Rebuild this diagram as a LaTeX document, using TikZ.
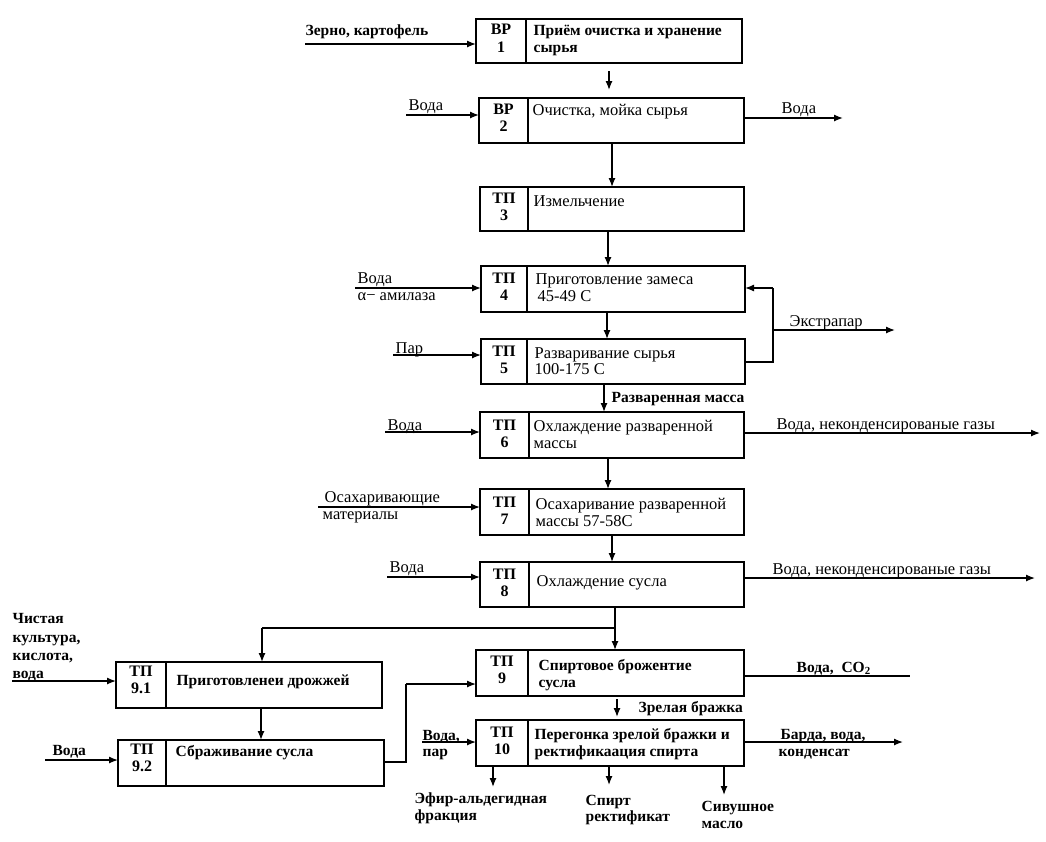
\documentclass[tikz,border=0pt]{standalone}
\usepackage{fontspec}
\setmainfont{Liberation Serif}
\usetikzlibrary{arrows.meta}
\begin{document}
\begin{tikzpicture}[x=1pt,y=-1pt,
  font=\fontsize{16.5}{17.5}\selectfont,
  line width=1.3pt,
  arr/.style={-{Latex[length=9pt,width=7pt]}},
  box/.style={draw, line width=1.3pt, anchor=north west, inner sep=0pt, outer sep=0pt},
  lbl/.style={anchor=base west, inner sep=0pt},
  bf/.style={font=\fontsize{15.5}{17.5}\selectfont\bfseries},
  idt/.style={align=center, inner sep=0pt, font=\fontsize{16}{17.5}\selectfont\bfseries},
  ]
\useasboundingbox[fill=white] (0,0) rectangle (1046,841);

% ---------- boxes ----------
\node[box, minimum width=266, minimum height=44] (b1) at (476,19) {};
\draw ([xshift=50]b1.north west) -- ([xshift=50]b1.south west);
\node[idt] (b1id) at (501,38.5) {ВР\\1};
\node[lbl,bf] (b1t) at (533,35) {Приём очистка и хранение};
\node[lbl,bf] (b1u) at (533,52) {сырья};

\node[box, minimum width=265, minimum height=45] (b2) at (479,98) {};
\draw ([xshift=49]b2.north west) -- ([xshift=49]b2.south west);
\node[idt] (b2id) at (503.5,118) {ВР\\2};
\node[lbl] (b2t) at (532,115) {Очистка, мойка сырья};

\node[box, minimum width=264, minimum height=44] (b3) at (480,187) {};
\draw ([xshift=48]b3.north west) -- ([xshift=48]b3.south west);
\node[idt] (b3id) at (504,207) {ТП\\3};
\node[lbl] (b3t) at (533,206) {Измельчение};

\node[box, minimum width=264, minimum height=46] (b4) at (481,266) {};
\draw ([xshift=46]b4.north west) -- ([xshift=46]b4.south west);
\node[idt] (b4id) at (504,287) {ТП\\4};
\node[lbl] (b4t) at (535,284) {Приготовление замеса};
\node[lbl] (b4u) at (537,301) {45-49 С};

\node[box, minimum width=264, minimum height=45] (b5) at (481,339) {};
\draw ([xshift=46]b5.north west) -- ([xshift=46]b5.south west);
\node[idt] (b5id) at (504,360) {ТП\\5};
\node[lbl] (b5t) at (534,358) {Разваривание сырья};
\node[lbl] (b5u) at (534,374) {100-175 С};

\node[box, minimum width=264, minimum height=46] (b6) at (480,412) {};
\draw ([xshift=49]b6.north west) -- ([xshift=49]b6.south west);
\node[idt] (b6id) at (504.5,434) {ТП\\6};
\node[lbl] (b6t) at (533,431) {Охлаждение разваренной};
\node[lbl] (b6u) at (533,448) {массы};

\node[box, minimum width=264, minimum height=46] (b7) at (480,489) {};
\draw ([xshift=49]b7.north west) -- ([xshift=49]b7.south west);
\node[idt] (b7id) at (504.5,511) {ТП\\7};
\node[lbl] (b7t) at (535,509) {Осахаривание разваренной};
\node[lbl] (b7u) at (535,526) {массы 57-58С};

\node[box, minimum width=264, minimum height=45] (b8) at (480,562) {};
\draw ([xshift=49]b8.north west) -- ([xshift=49]b8.south west);
\node[idt] (b8id) at (504.5,583) {ТП\\8};
\node[lbl] (b8t) at (536,586) {Охлаждение сусла};

\node[box, minimum width=268, minimum height=46] (b9) at (476,650) {};
\draw ([xshift=52]b9.north west) -- ([xshift=52]b9.south west);
\node[idt] (b9id) at (502,670) {ТП\\9};
\node[lbl,bf] (b9t) at (538,670) {Спиртовое брожентие};
\node[lbl,bf] (b9u) at (538,687) {сусла};

\node[box, minimum width=268, minimum height=46] (b10) at (476,720) {};
\draw ([xshift=52]b10.north west) -- ([xshift=52]b10.south west);
\node[idt] (b10id) at (502,741) {ТП\\10};
\node[lbl,bf] (b10t) at (534,739) {Перегонка зрелой бражки и};
\node[lbl,bf] (b10u) at (534,756) {ректификаация спирта};

\node[box, minimum width=266, minimum height=46] (b91) at (116,662) {};
\draw ([xshift=50]b91.north west) -- ([xshift=50]b91.south west);
\node[idt] (b91id) at (141,680) {ТП\\9.1};
\node[lbl,bf] (b91t) at (176,685) {Приготовленеи дрожжей};

\node[box, minimum width=266, minimum height=46] (b92) at (118,740) {};
\draw ([xshift=48]b92.north west) -- ([xshift=48]b92.south west);
\node[idt] (b92id) at (142,758) {ТП\\9.2};
\node[lbl,bf] (b92t) at (175,756) {Сбраживание сусла};

% ---------- helper coordinates ----------
\coordinate (x604) at (604,0);
\coordinate (x607) at (607,0);
\coordinate (x608) at (608,0);
\coordinate (x612) at (612,0);
\coordinate (x615) at (615,0);
\coordinate (x262) at (262,0);
\coordinate (x261) at (261,0);
\coordinate (x493) at (493,0);
\coordinate (x609) at (609,0);
\coordinate (x724) at (724,0);

% ---------- inputs ----------
\coordinate (i1) at (305,44);
\draw[arr] (i1) -- (i1 -| b1.west);
\node[lbl,bf] (l1) at (305,35) {Зерно, картофель};

\coordinate (i2) at (406,115);
\draw[arr] (i2) -- (i2 -| b2.west);
\node[lbl] (l2) at (408,110) {Вода};

\coordinate (i4) at (355,288);
\draw[arr] (i4) -- (i4 -| b4.west);
\node[lbl] (l4a) at (357,283) {Вода};
\node[lbl] (l4b) at (357,300) {α− амилаза};

\coordinate (i5) at (393,355);
\draw[arr] (i5) -- (i5 -| b5.west);
\node[lbl] (l5) at (395,353) {Пар};

\coordinate (i6) at (385,432);
\draw[arr] (i6) -- (i6 -| b6.west);
\node[lbl] (l6) at (387,430) {Вода};

\coordinate (i7) at (318,507);
\draw[arr] (i7) -- (i7 -| b7.west);
\node[lbl] (l7a) at (324,502) {Осахаривающие};
\node[lbl] (l7b) at (322,519) {материалы};

\coordinate (i8) at (387,577);
\draw[arr] (i8) -- (i8 -| b8.west);
\node[lbl] (l8) at (389,572) {Вода};

\coordinate (i91) at (12,681);
\draw[arr] (i91) -- (i91 -| b91.west);
\node[lbl,bf] (l91a) at (12,623) {Чистая};
\node[lbl,bf] (l91b) at (12,642) {культура,};
\node[lbl,bf] (l91c) at (12,660) {кислота,};
\node[lbl,bf] (l91d) at (12,678) {вода};

\coordinate (i92) at (45,760);
\draw[arr] (i92) -- (i92 -| b92.west);
\node[lbl,bf] (l92) at (52,755) {Вода};

\coordinate (i10) at (422,742);
\draw[arr] (i10) -- (i10 -| b10.west);
\node[lbl,bf] (l10a) at (422,740) {Вода,};
\node[lbl,bf] (l10b) at (422,756) {пар};

% ---------- outputs ----------
\coordinate (o2) at (843,118);
\draw[arr] (o2 -| b2.east) -- (o2);
\node[lbl] (lo2) at (781,113) {Вода};

\coordinate (o6) at (1040,433);
\draw[arr] (o6 -| b6.east) -- (o6);
\node[lbl] (lo6) at (776,429) {Вода, неконденсированые газы};

\coordinate (o8) at (1035,578);
\draw[arr] (o8 -| b8.east) -- (o8);
\node[lbl] (lo8) at (772,574.5) {Вода, неконденсированые газы};

\coordinate (o9) at (910,676);
\draw (o9 -| b9.east) -- (o9);
\node[lbl,bf] (lo9) at (796,672) {Вода,\ \ CO\textsubscript{2}};

\coordinate (o10) at (903,742);
\draw[arr] (o10 -| b10.east) -- (o10);
\node[lbl,bf] (lo10a) at (780,739) {Барда, вода,};
\node[lbl,bf] (lo10b) at (778,756) {конденсат};

% ---------- recycle / extrapar ----------
\coordinate (r5) at (773,362);
\coordinate (r4) at (773,288);
\coordinate (rx) at (773,330);
\coordinate (ox) at (895,330);
\draw (r5 -| b5.east) -- (r5) -- (r4);
\draw[arr] (r4) -- (r4 -| b4.east);
\draw[arr] (rx) -- (ox);
\node[lbl] (lx) at (789,326) {Экстрапар};

% ---------- main vertical flow ----------
\coordinate (d1a) at (609,71);
\coordinate (d1b) at (609,90);
\draw[arr] (d1a) -- (d1b);
\draw[arr] (b2.south -| x612) -- (b3.north -| x612);
\draw[arr] (b3.south -| x608) -- (b4.north -| x608);
\draw[arr] (b4.south -| x607) -- (b5.north -| x607);
\draw[arr] (b5.south -| x604) -- (b6.north -| x604);
\node[lbl,bf] (l56) at (611,402) {Разваренная масса};
\draw[arr] (b6.south -| x608) -- (b7.north -| x608);
\draw[arr] (b7.south -| x612) -- (b8.north -| x612);

% split after TP8
\coordinate (j) at (615,628);
\coordinate (jl) at (262,628);
\draw (b8.south -| x615) -- (j);
\draw[arr] (j) -- (b9.north -| x615);
\draw (j) -- (jl);
\draw[arr] (jl) -- (b91.north -| x262);
\draw[arr] (b91.south -| x261) -- (b92.north -| x261);

% TP9.2 -> TP9
\coordinate (k1) at (406,762);
\coordinate (k2) at (406,684);
\draw (k1 -| b92.east) -- (k1) -- (k2);
\draw[arr] (k2) -- (k2 -| b9.west);

% TP9 -> TP10
\coordinate (d9a) at (617,699);
\coordinate (d9b) at (617,717);
\draw[arr] (d9a) -- (d9b);
\node[lbl,bf] (l910) at (638,712) {Зрелая бражка};

% TP10 products
\draw[arr] (b10.south -| x493) -- ++(0,21) coordinate (p1);
\node[lbl,bf] (lp1a) at (414,803) {Эфир-альдегидная};
\node[lbl,bf] (lp1b) at (414,820) {фракция};
\draw[arr] (b10.south -| x609) -- ++(0,19) coordinate (p2);
\node[lbl,bf] (lp2a) at (585,805) {Спирт};
\node[lbl,bf] (lp2b) at (585,821) {ректификат};
\draw[arr] (b10.south -| x724) -- ++(0,29) coordinate (p3);
\node[lbl,bf] (lp3a) at (701,811) {Сивушное};
\node[lbl,bf] (lp3b) at (701,828) {масло};
\end{tikzpicture}
\end{document}
